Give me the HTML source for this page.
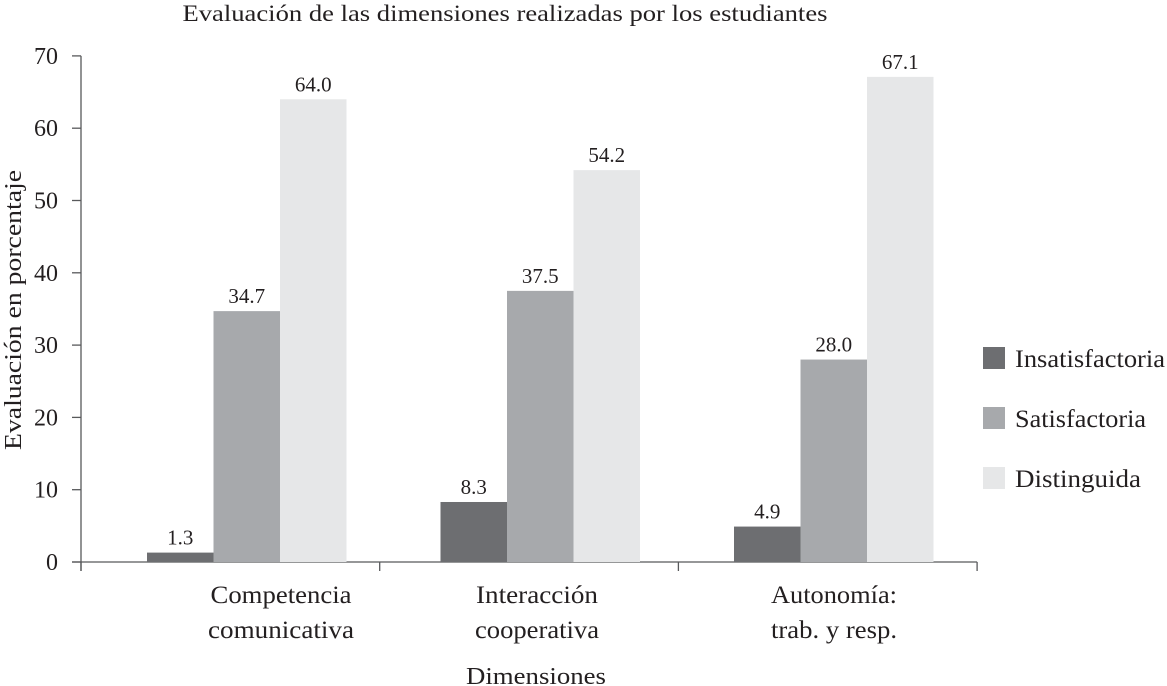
<!DOCTYPE html>
<html><head><meta charset="utf-8"><style>
body{margin:0;background:#fff;}
svg{display:block;font-family:"Liberation Serif",serif;}
</style></head><body>
<svg id="chart" width="1167" height="686">
<text x="505" y="21" font-size="23" text-anchor="middle" fill="#231f20" textLength="645" lengthAdjust="spacingAndGlyphs">Evaluación de las dimensiones realizadas por los estudiantes</text>
<text transform="translate(21,310) rotate(-90)" font-size="24" text-anchor="middle" fill="#231f20" textLength="280" lengthAdjust="spacingAndGlyphs">Evaluación en porcentaje</text>
<text x="536" y="684" font-size="24" text-anchor="middle" fill="#231f20" textLength="140" lengthAdjust="spacingAndGlyphs">Dimensiones</text>
<g id="ticks"></g><g id="bars"></g>
<g fill="#231f20" font-size="25" text-anchor="middle">
<text x="281" y="603" textLength="141" lengthAdjust="spacingAndGlyphs">Competencia</text>
<text x="281" y="638" textLength="146" lengthAdjust="spacingAndGlyphs">comunicativa</text>
<text x="537" y="603" textLength="122" lengthAdjust="spacingAndGlyphs">Interacción</text>
<text x="537" y="638" textLength="124" lengthAdjust="spacingAndGlyphs">cooperativa</text>
<text x="834" y="603" textLength="126" lengthAdjust="spacingAndGlyphs">Autonomía:</text>
<text x="834" y="638" textLength="126" lengthAdjust="spacingAndGlyphs">trab. y resp.</text>
</g>
<g font-size="25" fill="#231f20">
<rect x="983" y="347" width="22" height="22" fill="#6d6e71"/>
<text x="1015" y="367" textLength="150" lengthAdjust="spacingAndGlyphs">Insatisfactoria</text>
<rect x="983" y="407" width="22" height="22" fill="#a7a9ac"/>
<text x="1015" y="427" textLength="131" lengthAdjust="spacingAndGlyphs">Satisfactoria</text>
<rect x="983" y="467" width="22" height="22" fill="#e6e7e8"/>
<text x="1015" y="487" textLength="126" lengthAdjust="spacingAndGlyphs">Distinguida</text>
</g>
</svg>
<script>
const categories=["Competencia comunicativa","Interacción cooperativa","Autonomía: trab. y resp."];
const insatisfactoria=[1.3,8.3,4.9];
const satisfactoria=[34.7,37.5,28.0];
const distinguida=[64.0,54.2,67.1];
const yTicks=[0,10,20,30,40,50,60,70];
const NS="http://www.w3.org/2000/svg";
const y0=562,pxPer=72.3/10,x0=81,catW=298.7,barW=66.5,grpStart=147,grpStep=293.5;
const Y=v=>y0-v*pxPer;
const X=(ci,si)=>grpStart+ci*grpStep+si*barW;
function mk(t,a,p){const e=document.createElementNS(NS,t);for(const k in a)e.setAttribute(k,a[k]);p.appendChild(e);return e;}
const tk=document.getElementById('ticks'),bg=document.getElementById('bars');
const ax=mk('line',{x1:x0,y1:Y(70),x2:x0,y2:571,stroke:'#58595b','stroke-width':1.3},tk);


yTicks.forEach(v=>{
 const l=mk('line',{x1:72,y1:Y(v),x2:x0,y2:Y(v),stroke:'#58595b','stroke-width':1.3},tk);
 
 
 const t=mk('text',{x:58,y:Y(v)+8,'font-size':24,'text-anchor':'end',fill:'#231f20'},tk);
 t.textContent=v;
 
 
});
const xa=mk('line',{x1:72,y1:y0,x2:x0+catW*categories.length,y2:y0,stroke:'#58595b','stroke-width':1.3},tk);


for(let i=0;i<=categories.length;i++){
 const l=mk('line',{x1:x0+i*catW,y1:y0,x2:x0+i*catW,y2:571,stroke:'#58595b','stroke-width':1.3},tk);
 
 
}
const series=[[insatisfactoria,'#6d6e71','insatisfactoria'],[satisfactoria,'#a7a9ac','satisfactoria'],[distinguida,'#e6e7e8','distinguida']];
categories.forEach((c,ci)=>{
 series.forEach(([arr,col,nm],si)=>{
  const v=arr[ci];
  const r=mk('rect',{x:X(ci,si),y:Y(v),width:barW,height:y0-Y(v),fill:col},bg);
  
  
  const t=mk('text',{x:X(ci,si)+barW/2,y:Y(v)-8,'font-size':21,'text-anchor':'middle',fill:'#231f20'},bg);
  t.textContent=v.toFixed(1);
  
  
 });
});
</script>
</body></html>
